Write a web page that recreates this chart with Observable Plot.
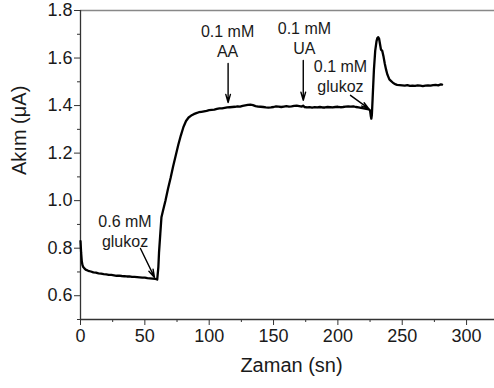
<!DOCTYPE html>
<html><head><meta charset="utf-8">
<script src="https://cdn.jsdelivr.net/npm/d3@7"></script>
<script src="https://cdn.jsdelivr.net/npm/@observablehq/plot@0.6"></script>
<style>body{margin:0;background:#fff} #chart{width:494px;height:388px}</style>
</head><body><div id="chart"></div>
<script>
const time = [0,0.5,1,1.5,2,3,4,6,8,10,12,14,16,18,20,22,24,26,28,30,32,34,36,38,40,42,44,46,48,50,52,54,56,58,59,59.6,60.5,61,62,62.9,64,66,68,70,72,74,76,78,80,82,84,86,88,90,92,94,96,98,100,102,104,106,108,110,112,114,116,118,120,122,124,126,128,130,132,134,136,138,140,142,144,146,148,150,152,154,156,158,160,162,164,166,168,170,172,173,174,176,178,180,182,184,186,188,190,192,194,196,198,200,202,204,206,208,210,212,214,216,218,220,222,224,225,225.6,226,226.4,227,228,229,230,230.6,231.3,232,232.7,233.5,234.5,235.5,236.5,237.5,238.5,240,241,243,245,246,248,250,252,254,256,258,260,262,264,266,268,270,272,274,276,278,280,281];
const current = [0.83,0.78,0.745,0.73,0.722,0.715,0.71,0.705,0.702,0.698,0.697,0.694,0.693,0.691,0.69,0.688,0.688,0.686,0.684,0.685,0.683,0.682,0.681,0.681,0.679,0.679,0.678,0.677,0.676,0.676,0.674,0.673,0.672,0.671,0.67,0.668,0.72,0.78,0.86,0.93,0.955,1.0,1.05,1.095,1.145,1.19,1.235,1.275,1.31,1.335,1.35,1.358,1.364,1.368,1.372,1.374,1.376,1.378,1.381,1.382,1.383,1.386,1.388,1.388,1.39,1.392,1.393,1.394,1.395,1.397,1.396,1.399,1.401,1.403,1.404,1.402,1.398,1.396,1.395,1.394,1.392,1.391,1.392,1.394,1.397,1.396,1.394,1.396,1.398,1.396,1.397,1.399,1.4,1.398,1.396,1.4,1.394,1.392,1.393,1.391,1.393,1.392,1.394,1.392,1.392,1.394,1.393,1.392,1.394,1.395,1.393,1.394,1.396,1.397,1.396,1.397,1.394,1.392,1.39,1.388,1.386,1.384,1.38,1.355,1.345,1.36,1.43,1.55,1.63,1.67,1.683,1.688,1.682,1.66,1.635,1.63,1.605,1.575,1.55,1.53,1.51,1.505,1.495,1.489,1.487,1.486,1.485,1.484,1.486,1.483,1.484,1.483,1.485,1.484,1.482,1.484,1.485,1.484,1.486,1.487,1.485,1.489,1.488];
const xTicks = [0,50,100,150,200,250,300];
const xMinorTicks = [25,75,125,175,225,275];
const yTicks = [0.6,0.8,1.0,1.2,1.4,1.6,1.8];
const yMinorTicks = [0.5,0.7,0.9,1.1,1.3,1.5,1.7];
const annText = ["0.6 mM\nglukoz","0.1 mM\nAA","0.1 mM\nUA","0.1 mM\nglukoz"];
const annX = [34.6,114.3,174,202];
const annY = [0.876,1.674,1.687,1.527];
const arrowX1 = [46.6,114.7,173.1,209.8];
const arrowY1 = [0.799,1.577,1.59,1.443];
const arrowX2 = [57.5,114.7,173.1,224];
const arrowY2 = [0.677,1.413,1.422,1.387];

const data = time.map((t,i)=>({t, v: current[i]}));
const ann = annText.map((text,i)=>({text, x:annX[i], y:annY[i], x1:arrowX1[i], y1:arrowY1[i], x2:arrowX2[i], y2:arrowY2[i]}));

const chart = Plot.plot({
  width:494, height:388, marginLeft:80, marginTop:10, marginRight:0, marginBottom:69,
  style:{fontFamily:"'Liberation Sans', Arial, sans-serif", background:"#fff", color:"#1a1a1a"},
  x:{domain:[0,321.7]}, y:{domain:[0.5,1.8]},
  marks:[
    Plot.ruleY([1.8],{stroke:"#888", strokeWidth:1.3}),
    Plot.axisX({ticks:xTicks, tickSize:6, tickPadding:4, fontSize:18, label:null, tickFormat:d3.format("d"), stroke:"#333"}),
    Plot.axisX({ticks:xMinorTicks, tickSize:3, label:null, tickFormat:()=>"", stroke:"#333"}),
    Plot.axisY({ticks:yTicks, tickSize:6, tickPadding:2, fontSize:18, label:null, tickFormat:d3.format(".1f"), stroke:"#333"}),
    Plot.axisY({ticks:yMinorTicks, tickSize:3, label:null, tickFormat:()=>"", stroke:"#333"}),
    Plot.ruleX([0],{stroke:"#333", strokeWidth:1.3}),
    Plot.ruleY([0.5],{stroke:"#333", strokeWidth:1.3}),
    Plot.line(data,{x:"t", y:"v", stroke:"#000", strokeWidth:2.3}),
    Plot.arrow(ann,{x1:"x1", y1:"y1", x2:"x2", y2:"y2", stroke:"#000", strokeWidth:1.4, headLength:9, headAngle:32}),
    Plot.text(ann,{x:"x", y:"y", text:"text", fontSize:16, lineHeight:1.25, fill:"#1a1a1a"}),
    Plot.text(["Zaman (sn)"],{text:d=>d, frameAnchor:"bottom", dy:52, dx:4, fontSize:20, fill:"#1a1a1a"}),
    Plot.text(["Akım (μA)"],{text:d=>d, frameAnchor:"left", rotate:-90, dx:-61, dy:10, fontSize:20, fill:"#1a1a1a"})
  ]
});
document.getElementById("chart").append(chart);
</script></body></html>
